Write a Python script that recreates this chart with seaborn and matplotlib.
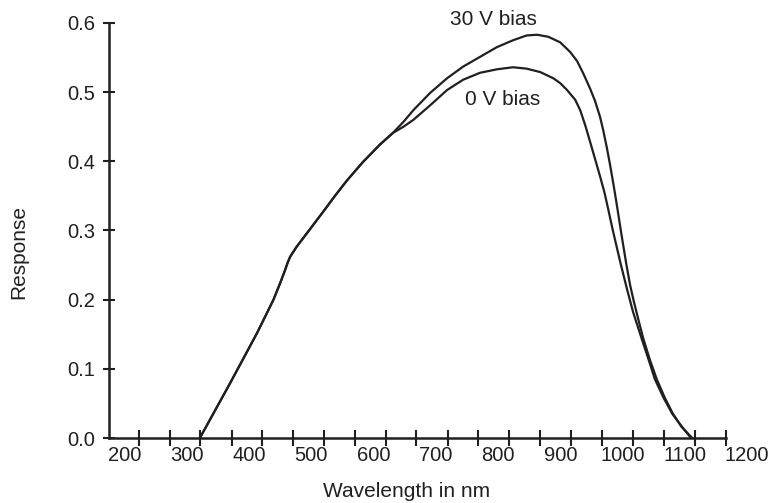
import matplotlib
matplotlib.use("Agg")
import matplotlib.pyplot as plt
import pandas as pd
import seaborn as sns

INK = "#231f20"

# shared part of both curves (nm, response)
shared_nm = [321, 370, 413, 439, 450, 458, 462, 466, 476, 487, 503, 519, 538,
             557, 583, 610, 631]
shared_resp = [0.0, 0.080, 0.152, 0.1995, 0.224, 0.243, 0.2535, 0.262, 0.276, 0.289,
               0.308, 0.327, 0.350, 0.372, 0.399, 0.424, 0.441]

# 30 V bias branch
bias30_nm = [648, 664, 691, 718, 744, 771, 798, 824, 846, 863, 881, 900, 916,
             927, 937, 948, 956, 964, 969, 975, 980, 985, 990, 998, 1006,
             1012, 1018, 1023, 1033, 1044, 1055, 1068, 1081, 1095, 1112]
bias30_resp = [0.457, 0.474, 0.499, 0.520, 0.537, 0.551, 0.565, 0.575, 0.582, 0.583,
               0.580, 0.572, 0.558, 0.545, 0.527, 0.505, 0.487, 0.464, 0.445, 0.419,
               0.395, 0.369, 0.342, 0.296, 0.252, 0.222, 0.198, 0.180, 0.145, 0.113,
               0.085, 0.058, 0.035, 0.016, 0.0]

# 0 V bias branch
bias0_nm = [648, 664, 691, 718, 744, 771, 798, 824, 846, 868, 889, 900, 911,
            924, 932, 940, 948, 956, 964, 971, 977, 984, 991, 997, 1007, 1017,
            1031, 1042, 1052, 1066, 1080, 1094, 1110]
bias0_resp = [0.450, 0.460, 0.481, 0.503, 0.518, 0.528, 0.533, 0.536, 0.534, 0.529,
              0.520, 0.513, 0.503, 0.489, 0.474, 0.4525, 0.428, 0.403, 0.378, 0.355,
              0.331, 0.302, 0.275, 0.252, 0.216, 0.182, 0.143, 0.113, 0.085, 0.058,
              0.035, 0.018, 0.0]

x_labels = [200, 300, 400, 500, 600, 700, 800, 900, 1000, 1100, 1200]
x_marks = [223, 273, 322, 372, 421, 471, 520, 570, 620, 669, 719, 768, 818,
           868, 917, 967, 1017, 1066, 1116, 1166]
y_ticks = [0.0, 0.1, 0.2, 0.3, 0.4, 0.5, 0.6]

sns.set_theme(style="white")
plt.rcParams.update({
    "font.family": ["Liberation Sans", "DejaVu Sans"],
    "text.color": INK,
    "axes.labelcolor": INK,
    "xtick.color": INK,
    "ytick.color": INK,
    "axes.edgecolor": INK,
    "lines.solid_joinstyle": "round",
})

curve30 = pd.DataFrame({"nm": shared_nm + bias30_nm, "resp": shared_resp + bias30_resp})
curve0 = pd.DataFrame({"nm": shared_nm + bias0_nm, "resp": shared_resp + bias0_resp})

fig = plt.figure(figsize=(7.73, 5.03), dpi=100)
ax = fig.add_axes([109 / 773, 65 / 503, 638 / 773, 415 / 503])

for df in (curve30, curve0):
    sns.lineplot(data=df, x="nm", y="resp", sort=False, estimator=None,
                 color=INK, lw=1.6, ax=ax)

ax.set_xlim(175, 1200)
ax.set_ylim(0, 0.6)

ax.set_xticks(x_labels)
ax.set_xticklabels([str(v) for v in x_labels], fontsize=14.5)
ax.set_xticks(x_marks, minor=True)
ax.tick_params(axis="x", which="major", bottom=True, length=0, pad=6)
ax.tick_params(axis="x", which="minor", bottom=True, direction="inout",
               length=11, width=1.5)

ax.set_yticks(y_ticks)
ax.set_yticklabels([f"{v:.1f}" for v in y_ticks], fontsize=14.5)
ax.tick_params(axis="y", which="major", left=True, direction="inout",
               length=8.5, width=1.5, pad=6)

for side in ("top", "right"):
    ax.spines[side].set_visible(False)
for side in ("left", "bottom"):
    ax.spines[side].set_linewidth(1.8)
ax.spines["bottom"].set_bounds(175, 1166)
ax.spines["left"].set_bounds(0, 0.6)

ax.set_xlabel("Wavelength in nm", fontsize=15)
ax.set_ylabel("Response", fontsize=15)
ax.xaxis.set_label_coords(0.466, -0.106)
ax.yaxis.set_label_coords(-0.127, 0.448)

ax.text(793, 0.597, "30 V bias", ha="center", va="baseline", fontsize=15, clip_on=False)
ax.text(807, 0.4815, "0 V bias", ha="center", va="baseline", fontsize=15)

fig.savefig("out.png", dpi=100)
